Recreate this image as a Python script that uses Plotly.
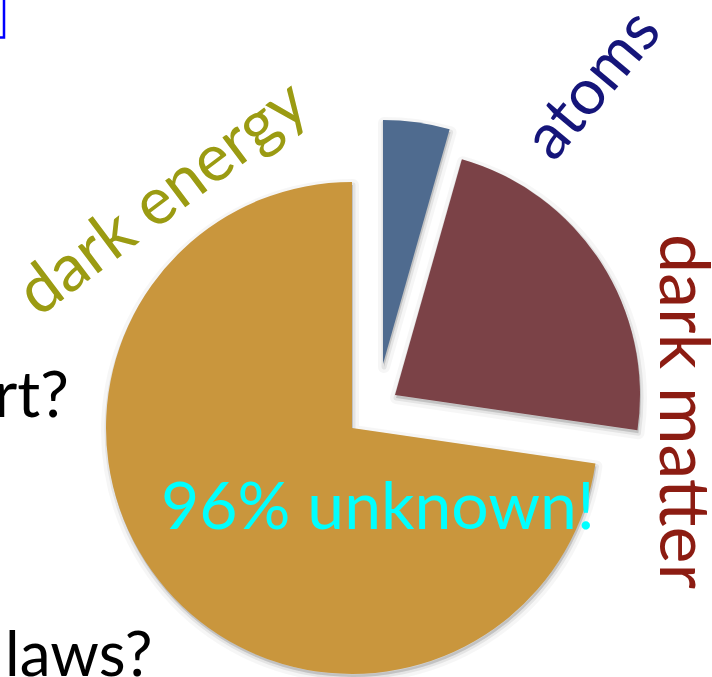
import plotly.graph_objects as go

# ---- data ----
labels = ["atoms", "dark matter", "dark energy"]
values = [4.4, 22.9, 72.7]
slice_colors = ["#4f6b8f", "#7b4247", "#c9963d"]
label_colors = ["#15157a", "#8c1c12", "#9b9b12"]
center_text = "96% unknown!"
side_texts = ["rt?", "laws?"]

# ---- layout geometry (pixels) ----
W, H = 712, 677
FONT = "Lato"
# centre (px) and radius (px) of each exploded slice
slice_pos = {"atoms": (383, 364, 244), "dark matter": (395, 395, 245), "dark energy": (352, 428, 246)}


def px_x(x):
    return x / W


def px_y(y):
    return 1 - y / H


def domain(cx, cy, r):
    return dict(x=[px_x(cx - r), px_x(cx + r)], y=[px_y(cy + r), px_y(cy - r)])


fig = go.Figure()

# soft shadows beneath the slices
for i, lab in enumerate(labels):
    cx, cy, r = slice_pos[lab]
    for lw, fa, la, dx, dy in [(12, 0.05, 0.035, 1, 3), (5, 0.10, 0.07, 1, 3)]:
        cols = ["rgba(0,0,0,0)"] * len(labels)
        cols[i] = f"rgba(0,0,0,{fa})"
        lcols = ["rgba(0,0,0,0)"] * len(labels)
        lcols[i] = f"rgba(0,0,0,{la})"
        widths = [0] * len(labels)
        widths[i] = lw
        fig.add_trace(go.Pie(
            labels=labels, values=values, sort=False, direction="clockwise", rotation=0,
            marker=dict(colors=cols, line=dict(color=lcols, width=widths)),
            textinfo="none", hoverinfo="skip", showlegend=False,
            domain=domain(cx + dx, cy + dy, r),
        ))

# the slices themselves
for i, lab in enumerate(labels):
    cx, cy, r = slice_pos[lab]
    cols = ["rgba(0,0,0,0)"] * len(labels)
    cols[i] = slice_colors[i]
    fig.add_trace(go.Pie(
        labels=labels, values=values, sort=False, direction="clockwise", rotation=0,
        marker=dict(colors=cols, line=dict(width=0)),
        textinfo="none", hoverinfo="label+percent", showlegend=False,
        domain=domain(cx, cy, r),
    ))

annotations = [
    dict(text=labels[2], x=px_x(160), y=px_y(195), textangle=-37,
         font=dict(family=FONT, size=66, color=label_colors[2])),
    dict(text=labels[0], x=px_x(589), y=px_y(82), textangle=-50,
         font=dict(family=FONT, size=64, color=label_colors[0])),
    dict(text=labels[1], x=px_x(687), y=px_y(411), textangle=90,
         font=dict(family=FONT, size=70, color=label_colors[1])),
    dict(text=center_text, x=px_x(378), y=px_y(503),
         font=dict(family=FONT, size=66, color="#00ffff")),
    dict(text=side_texts[0], x=px_x(71), y=px_y(392), xanchor="right",
         font=dict(family=FONT, size=64, color="#000000")),
    dict(text=side_texts[1], x=px_x(3), y=px_y(652), xanchor="left",
         font=dict(family=FONT, size=62, color="#000000")),
]
for a in annotations:
    a.setdefault("xanchor", "center")
    a.setdefault("yanchor", "middle")
    a.update(xref="paper", yref="paper", showarrow=False)

fig.update_layout(
    width=W, height=H, autosize=False,
    margin=dict(l=0, r=0, t=0, b=0),
    paper_bgcolor="white", plot_bgcolor="white",
    annotations=annotations,
    shapes=[dict(type="rect", xref="paper", yref="paper",
                 x0=px_x(-20), x1=px_x(4), y0=px_y(37.5), y1=px_y(-20),
                 line=dict(color="#0000ff", width=2.5))],
)

fig.write_html("out.html", config={"displayModeBar": False},
               post_script="document.body.style.margin='0';")
